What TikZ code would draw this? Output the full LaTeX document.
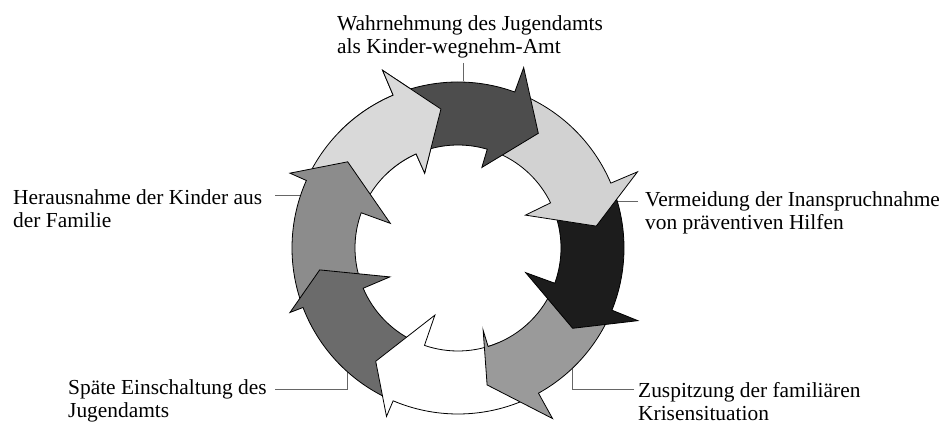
\documentclass[tikz,border=0pt]{standalone}
\usepackage{fontspec}
\setmainfont{Liberation Serif}
\definecolor{cDarkTop}{HTML}{4D4D4D}
\definecolor{cLightR}{HTML}{D2D2D2}
\definecolor{cBlack}{HTML}{1C1C1C}
\definecolor{cMidBR}{HTML}{9A9A9A}
\definecolor{cDarkBL}{HTML}{6B6B6B}
\definecolor{cGrayL}{HTML}{8C8C8C}
\definecolor{cLightTL}{HTML}{D9D9D9}
\tikzset{
  arrowpart/.style={draw=black, line width=0.8pt, line join=miter},
  leader/.style={draw=black!60, line width=0.8pt},
  lbl/.style={anchor=base west, inner sep=0pt, font=\fontsize{21.4}{23}\selectfont},
}
% #1 colour, #2 tail angle, #3 outer barb angle, #4 outer barb radius,
% #5 tip angle, #6 inner barb angle, #7 inner barb radius
\newcommand\ringarrow[7]{%
  \filldraw[arrowpart, fill=#1] (#2:166) arc[start angle=#2, end angle=#3, radius=166]
    -- (#3:#4) -- (#5:140) -- (#6:#7) -- (#6:103)
    arc[start angle=#6, end angle=#2, radius=103] -- cycle;}
\begin{document}
\begin{tikzpicture}[x=1pt,y=-1pt]
\useasboundingbox[fill=white] (0,0) rectangle (943,427);

% leader lines
\coordinate (tA) at (463,63);  \coordinate (tB) at (463,81);
\coordinate (r1A) at (638,201); \coordinate (r1B) at (608,201);
\coordinate (r2A) at (634,389); \coordinate (r2K) at (572,389); \coordinate (r2B) at (572,367);
\coordinate (l1A) at (275,195); \coordinate (l1B) at (300,195);
\coordinate (l2A) at (275,389); \coordinate (l2K) at (347,389); \coordinate (l2B) at (347,360);
\draw[leader] (tA) -- (tB);
\draw[leader] (r1A) -- (r1B);
\draw[leader] (r2A) -- (r2K) -- (r2B);
\draw[leader] (l1A) -- (l1B);
\draw[leader] (l2A) -- (l2K) -- (l2B);

% ring of arrows
\begin{scope}[shift={(458,248)}, y=1pt]
  \ringarrow{cLightTL}{-207}{-247}{193}{-263}{-246}{82}
  \ringarrow{cGrayL}{-160}{-204}{184}{-218}{-200}{72}
  \ringarrow{cDarkBL}{-115}{-159}{180}{-171}{-157}{74}
  \ringarrow{white}{-67}{-113}{183}{-126}{-109}{71}
  \ringarrow{cMidBR}{-24}{-61}{195}{-78}{-73}{86}
  \ringarrow{cBlack}{20}{-22}{194}{-35}{-20}{72}
  \ringarrow{cLightR}{66}{23}{195}{9}{26}{75}
  \ringarrow{cDarkTop}{108}{70}{192}{55}{73.5}{84}
  \begin{scope}
    \clip (0,0) -- (85:240) arc[start angle=85, end angle=135, radius=240] -- cycle;
    \ringarrow{cLightTL}{-207}{-247}{193}{-263}{-246}{82}
  \end{scope}
\end{scope}

% labels
\node[lbl] (top) at (337,31) {\begin{tabular}[t]{@{}l@{}}Wahrnehmung des Jugendamts\\als Kinder-wegnehm-Amt\end{tabular}};
\node[lbl] (right1) at (645,207) {\begin{tabular}[t]{@{}l@{}}Vermeidung der Inanspruchnahme\\von präventiven Hilfen\end{tabular}};
\node[lbl] (right2) at (638,398) {\begin{tabular}[t]{@{}l@{}}Zuspitzung der familiären\\Krisensituation\end{tabular}};
\node[lbl] (left1) at (13,205) {\begin{tabular}[t]{@{}l@{}}Herausnahme der Kinder aus\\der Familie\end{tabular}};
\node[lbl] (left2) at (68,395) {\begin{tabular}[t]{@{}l@{}}Späte Einschaltung des\\Jugendamts\end{tabular}};
\end{tikzpicture}
\end{document}
